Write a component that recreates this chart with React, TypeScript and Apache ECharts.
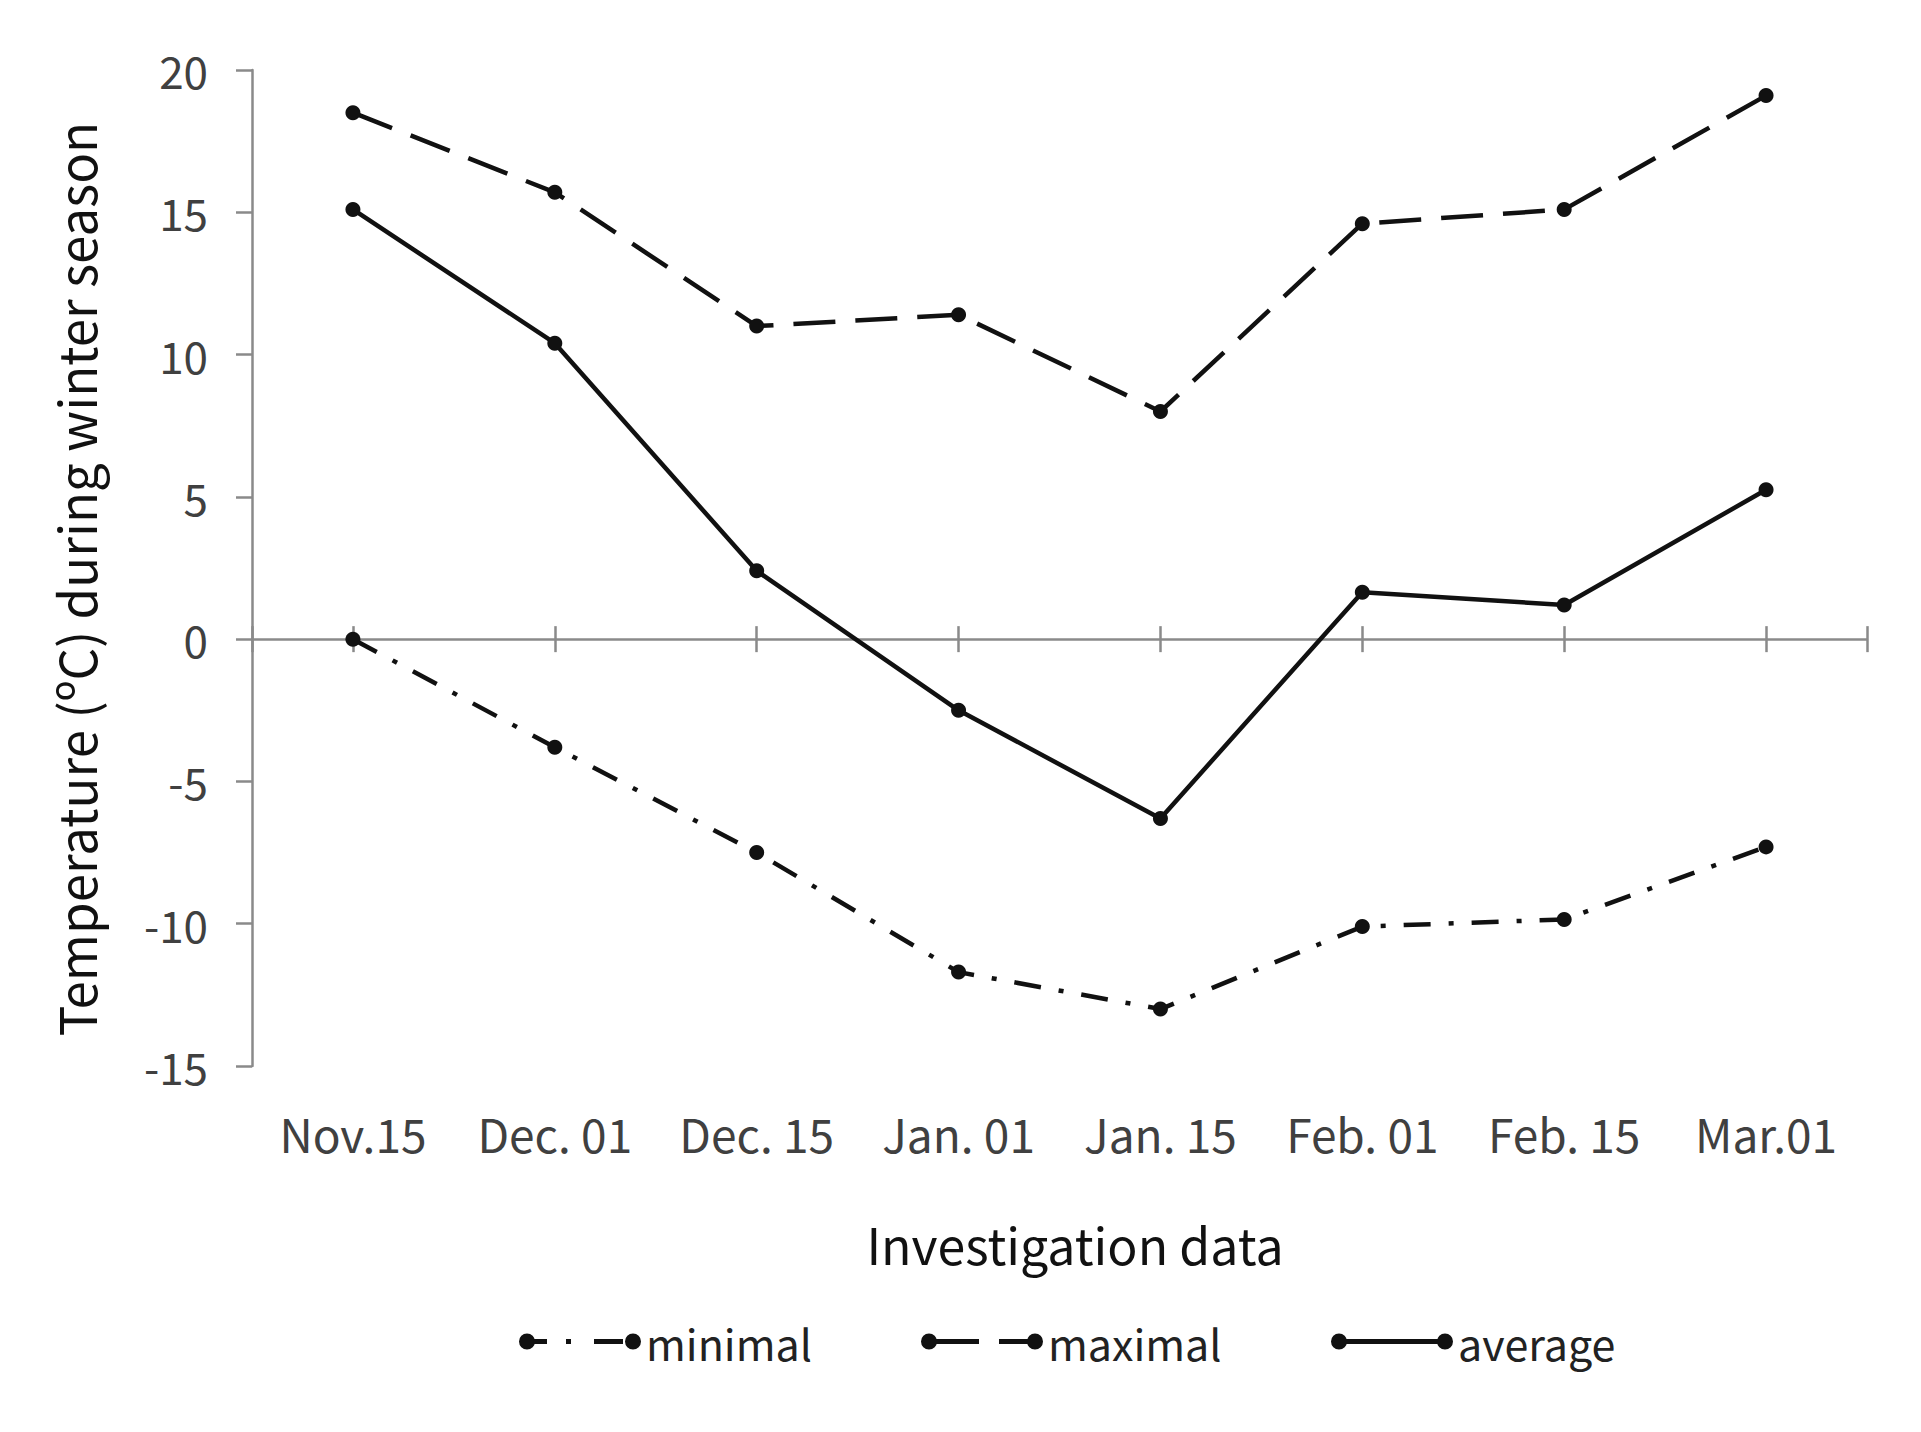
import React, { useEffect, useRef } from "react";
import * as echarts from "echarts";

const categories = ["Nov.15", "Dec. 01", "Dec. 15", "Jan. 01", "Jan. 15", "Feb. 01", "Feb. 15", "Mar.01"];
const minimalValues = [0, -3.8, -7.5, -11.7, -13.0, -10.1, -9.85, -7.3];
const maximalValues = [18.5, 15.7, 11.0, 11.4, 8.0, 14.6, 15.1, 19.1];
const averageValues = [15.1, 10.4, 2.4, -2.5, -6.3, 1.65, 1.2, 5.25];
const yTicks = { min: -15, max: 20, interval: 5 };

const W = 1921;
const H = 1432;
const GRID = { left: 252, right: 54, top: 70, bottom: 366 };
const FONT = "'Noto Sans CJK KR', 'Noto Sans', sans-serif";
const AXIS_GRAY = "#8a8a8a";
const LINE = "#111111";

const circ = (cx: number) => `M${cx - 8},8 a8,8 0 1,1 16,0 a8,8 0 1,1 -16,0 Z `;
const bar = (x0: number, x1: number) => `M${x0},5.5 H${x1} V10.5 H${x0} Z `;
const iconMin = "path://" + circ(8) + bar(14, 28) + bar(47, 52) + bar(75, 104) + circ(114);
const iconMax = "path://" + circ(8) + bar(14, 58) + bar(78, 108) + circ(114);
const iconAvg = "path://" + circ(8) + bar(14, 108) + circ(114);

export default function App() {
  const ref = useRef<HTMLDivElement>(null);
  useEffect(() => {
    if (!ref.current) return;
    const chart = echarts.init(ref.current, null, { renderer: "svg" });
    const plotH = H - GRID.top - GRID.bottom;
    const zeroOffset = -(plotH * (0 - yTicks.min)) / (yTicks.max - yTicks.min);
    const tickStyle = { color: AXIS_GRAY, width: 2.5 };
    const hiddenCat = {
      type: "category",
      data: categories,
      boundaryGap: true,
      axisLabel: { show: false },
      splitLine: { show: false },
    };
    const legendBase = {
      top: 1320,
      padding: 0,
      itemWidth: 122,
      itemHeight: 16,
      itemStyle: { borderWidth: 0 },
      textStyle: { fontFamily: FONT, fontSize: 43, color: "#222" },
    };
    const tickAxis = (inside: boolean) => ({
      type: "value",
      min: 0,
      max: 1,
      interval: 1,
      position: "bottom",
      offset: zeroOffset,
      axisLine: { show: false, onZero: false },
      axisLabel: { show: false },
      splitLine: { show: false },
      axisTick: { show: true, inside, length: 13, lineStyle: tickStyle },
    });
    chart.setOption({
      animation: false,
      backgroundColor: "#ffffff",
      grid: { ...GRID, containLabel: false, outerBoundsMode: "none" },
      title: {
        text: "Investigation data",
        left: 1070,
        top: 1213,
        textAlign: "center",
        textStyle: { fontFamily: FONT, fontSize: 50, fontWeight: "normal", color: "#111" },
      },
      legend: [
        { ...legendBase, left: 519, data: [{ name: "minimal", icon: iconMin }] },
        { ...legendBase, left: 921, data: [{ name: "maximal", icon: iconMax }] },
        { ...legendBase, left: 1331, data: [{ name: "average", icon: iconAvg }] },
      ],
      xAxis: [
        {
          ...hiddenCat,
          position: "bottom",
          axisLine: { show: true, onZero: true, lineStyle: { color: AXIS_GRAY, width: 2.5 } },
          axisTick: { show: true, alignWithLabel: true, length: 13, lineStyle: tickStyle },
        },
        {
          ...hiddenCat,
          position: "bottom",
          offset: zeroOffset,
          axisLine: { show: false, onZero: false },
          axisTick: { show: true, inside: true, alignWithLabel: true, length: 13, lineStyle: tickStyle },
        },
        {
          type: "category",
          data: categories,
          boundaryGap: true,
          position: "bottom",
          axisLine: { show: false, onZero: false },
          axisTick: { show: false },
          splitLine: { show: false },
          axisLabel: { show: true, interval: 0, margin: 44, fontFamily: FONT, fontSize: 46, color: "#404040" },
        },
        tickAxis(false),
        tickAxis(true),
      ],
      yAxis: {
        type: "value",
        min: yTicks.min,
        max: yTicks.max,
        interval: yTicks.interval,
        name: "Temperature (ºC) during winter season",
        nameLocation: "middle",
        nameGap: 152,
        nameTextStyle: { fontFamily: FONT, fontSize: 51, color: "#111", padding: [0, 22, 0, 0] },
        axisLine: { show: true, onZero: false, lineStyle: { color: AXIS_GRAY, width: 2.5 } },
        axisTick: { show: true, length: 16, lineStyle: tickStyle },
        axisLabel: { margin: 44, fontFamily: FONT, fontSize: 44, color: "#404040" },
        splitLine: { show: false },
      },
      series: [
        {
          name: "minimal",
          type: "line",
          xAxisIndex: 0,
          data: minimalValues,
          symbol: "circle",
          symbolSize: 15,
          itemStyle: { color: LINE, borderWidth: 0 },
          lineStyle: { color: LINE, width: 4.5, type: [27, 18, 5, 18] },
        },
        {
          name: "maximal",
          type: "line",
          xAxisIndex: 0,
          data: maximalValues,
          symbol: "circle",
          symbolSize: 15,
          itemStyle: { color: LINE, borderWidth: 0 },
          lineStyle: { color: LINE, width: 4.5, type: [42, 20] },
        },
        {
          name: "average",
          type: "line",
          xAxisIndex: 0,
          data: averageValues,
          symbol: "circle",
          symbolSize: 15,
          itemStyle: { color: LINE, borderWidth: 0 },
          lineStyle: { color: LINE, width: 4.5 },
        },
      ],
    });
    return () => chart.dispose();
  }, []);
  return <div ref={ref} style={{ position: "absolute", left: 0, top: 0, width: W, height: H }} />;
}
